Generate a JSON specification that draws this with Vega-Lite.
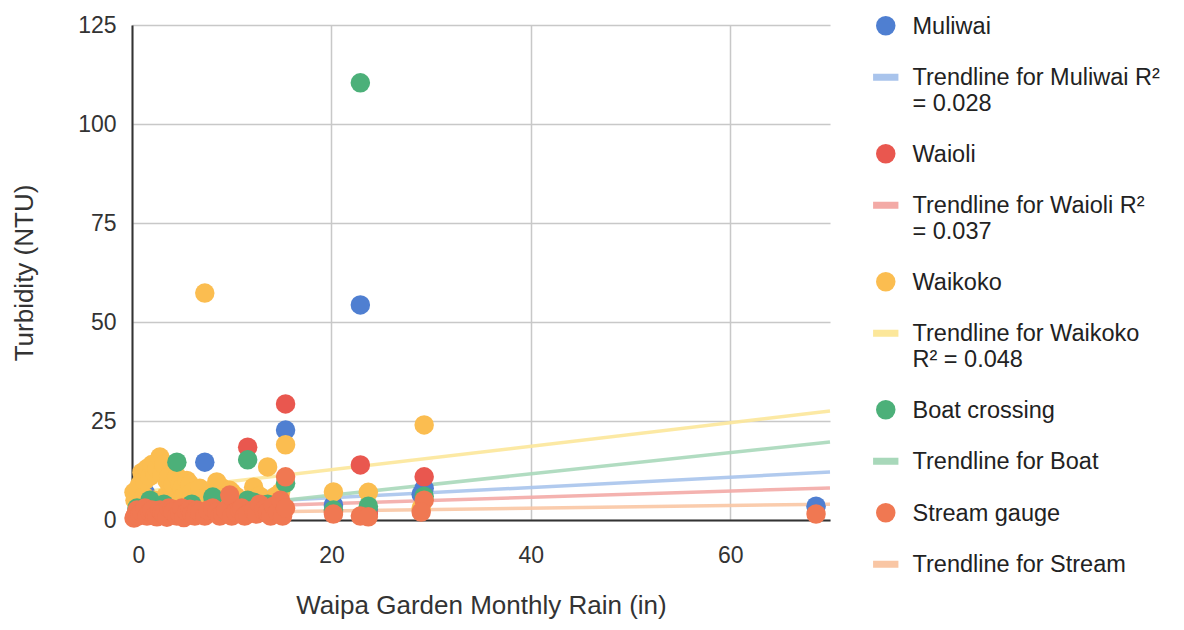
{
  "$schema": "https://vega.github.io/schema/vega-lite/v6.json",
  "width": 698,
  "height": 495,
  "autosize": {"type": "none"},
  "padding": {"left": 132, "top": 25, "right": 354, "bottom": 110},
  "background": "white",
  "config": {
    "view": {"stroke": null},
    "font": "Liberation Sans",
    "style": {"guide-label": {"dy": -11}}
  },
  "datasets": {
    "points": [
      {"series": "Muliwai", "rain": 0.5, "ntu": 2},
      {"series": "Muliwai", "rain": 1.3, "ntu": 7},
      {"series": "Muliwai", "rain": 2.3, "ntu": 3},
      {"series": "Muliwai", "rain": 3.2, "ntu": 4},
      {"series": "Muliwai", "rain": 4.1, "ntu": 3},
      {"series": "Muliwai", "rain": 5.0, "ntu": 2.5},
      {"series": "Muliwai", "rain": 6.0, "ntu": 3},
      {"series": "Muliwai", "rain": 7.3, "ntu": 14.6},
      {"series": "Muliwai", "rain": 8.1, "ntu": 3},
      {"series": "Muliwai", "rain": 9.1, "ntu": 2},
      {"series": "Muliwai", "rain": 10.4, "ntu": 3},
      {"series": "Muliwai", "rain": 11.6, "ntu": 4},
      {"series": "Muliwai", "rain": 12.2, "ntu": 6},
      {"series": "Muliwai", "rain": 13.6, "ntu": 5},
      {"series": "Muliwai", "rain": 14.9, "ntu": 4},
      {"series": "Muliwai", "rain": 15.4, "ntu": 22.7},
      {"series": "Muliwai", "rain": 20.2, "ntu": 3.8},
      {"series": "Muliwai", "rain": 22.9, "ntu": 54.3},
      {"series": "Muliwai", "rain": 23.7, "ntu": 2.5},
      {"series": "Muliwai", "rain": 29.3, "ntu": 8},
      {"series": "Muliwai", "rain": 29.0, "ntu": 6.5},
      {"series": "Muliwai", "rain": 68.6, "ntu": 3.5},
      {"series": "Waioli", "rain": 0.8, "ntu": 2},
      {"series": "Waioli", "rain": 1.8, "ntu": 3},
      {"series": "Waioli", "rain": 2.8, "ntu": 2.5},
      {"series": "Waioli", "rain": 4.1, "ntu": 12.6},
      {"series": "Waioli", "rain": 5.5, "ntu": 2},
      {"series": "Waioli", "rain": 6.5, "ntu": 3},
      {"series": "Waioli", "rain": 8.5, "ntu": 2},
      {"series": "Waioli", "rain": 9.8, "ntu": 4},
      {"series": "Waioli", "rain": 11.0, "ntu": 3},
      {"series": "Waioli", "rain": 11.6, "ntu": 18.4},
      {"series": "Waioli", "rain": 12.8, "ntu": 3},
      {"series": "Waioli", "rain": 14.2, "ntu": 2.5},
      {"series": "Waioli", "rain": 15.4, "ntu": 29.3},
      {"series": "Waioli", "rain": 20.2, "ntu": 2},
      {"series": "Waioli", "rain": 22.9, "ntu": 13.9},
      {"series": "Waioli", "rain": 23.7, "ntu": 1.5},
      {"series": "Waioli", "rain": 29.3, "ntu": 10.9},
      {"series": "Waikoko", "rain": 0.2, "ntu": 7},
      {"series": "Waikoko", "rain": 0.3, "ntu": 5},
      {"series": "Waikoko", "rain": 0.6, "ntu": 8},
      {"series": "Waikoko", "rain": 0.8, "ntu": 9},
      {"series": "Waikoko", "rain": 1.0, "ntu": 12},
      {"series": "Waikoko", "rain": 1.2, "ntu": 6},
      {"series": "Waikoko", "rain": 1.3, "ntu": 10},
      {"series": "Waikoko", "rain": 1.5, "ntu": 13},
      {"series": "Waikoko", "rain": 1.8, "ntu": 11},
      {"series": "Waikoko", "rain": 2.0, "ntu": 14},
      {"series": "Waikoko", "rain": 2.2, "ntu": 5},
      {"series": "Waikoko", "rain": 2.3, "ntu": 12},
      {"series": "Waikoko", "rain": 2.5, "ntu": 13},
      {"series": "Waikoko", "rain": 2.8, "ntu": 15.9},
      {"series": "Waikoko", "rain": 3.0, "ntu": 12},
      {"series": "Waikoko", "rain": 3.2, "ntu": 14},
      {"series": "Waikoko", "rain": 3.4, "ntu": 6},
      {"series": "Waikoko", "rain": 3.5, "ntu": 10},
      {"series": "Waikoko", "rain": 3.7, "ntu": 11},
      {"series": "Waikoko", "rain": 4.0, "ntu": 8},
      {"series": "Waikoko", "rain": 4.1, "ntu": 9},
      {"series": "Waikoko", "rain": 4.4, "ntu": 5},
      {"series": "Waikoko", "rain": 4.5, "ntu": 11},
      {"series": "Waikoko", "rain": 4.8, "ntu": 9},
      {"series": "Waikoko", "rain": 5.0, "ntu": 8},
      {"series": "Waikoko", "rain": 5.2, "ntu": 6},
      {"series": "Waikoko", "rain": 5.5, "ntu": 10},
      {"series": "Waikoko", "rain": 5.6, "ntu": 4},
      {"series": "Waikoko", "rain": 5.8, "ntu": 9},
      {"series": "Waikoko", "rain": 6.0, "ntu": 7},
      {"series": "Waikoko", "rain": 6.3, "ntu": 5},
      {"series": "Waikoko", "rain": 6.5, "ntu": 6},
      {"series": "Waikoko", "rain": 6.8, "ntu": 8},
      {"series": "Waikoko", "rain": 7.3, "ntu": 57.3},
      {"series": "Waikoko", "rain": 7.6, "ntu": 6},
      {"series": "Waikoko", "rain": 8.1, "ntu": 7},
      {"series": "Waikoko", "rain": 8.5, "ntu": 9.6},
      {"series": "Waikoko", "rain": 8.8, "ntu": 8},
      {"series": "Waikoko", "rain": 9.1, "ntu": 8},
      {"series": "Waikoko", "rain": 9.4, "ntu": 5},
      {"series": "Waikoko", "rain": 9.8, "ntu": 7.5},
      {"series": "Waikoko", "rain": 10.0, "ntu": 7},
      {"series": "Waikoko", "rain": 10.4, "ntu": 6},
      {"series": "Waikoko", "rain": 10.8, "ntu": 4},
      {"series": "Waikoko", "rain": 11.0, "ntu": 5},
      {"series": "Waikoko", "rain": 11.6, "ntu": 4},
      {"series": "Waikoko", "rain": 12.2, "ntu": 8.3},
      {"series": "Waikoko", "rain": 12.6, "ntu": 5},
      {"series": "Waikoko", "rain": 12.8, "ntu": 6},
      {"series": "Waikoko", "rain": 13.6, "ntu": 13.4},
      {"series": "Waikoko", "rain": 14.2, "ntu": 5},
      {"series": "Waikoko", "rain": 14.4, "ntu": 6},
      {"series": "Waikoko", "rain": 14.9, "ntu": 7},
      {"series": "Waikoko", "rain": 15.4, "ntu": 19},
      {"series": "Waikoko", "rain": 20.2, "ntu": 7.1},
      {"series": "Waikoko", "rain": 23.7, "ntu": 7},
      {"series": "Waikoko", "rain": 29.3, "ntu": 24},
      {"series": "Waikoko", "rain": 29.0, "ntu": 3},
      {"series": "Boat crossing", "rain": 0.5, "ntu": 3},
      {"series": "Boat crossing", "rain": 1.8, "ntu": 5},
      {"series": "Boat crossing", "rain": 3.2, "ntu": 4},
      {"series": "Boat crossing", "rain": 4.5, "ntu": 14.6},
      {"series": "Boat crossing", "rain": 6.0, "ntu": 4},
      {"series": "Boat crossing", "rain": 8.1, "ntu": 5.8},
      {"series": "Boat crossing", "rain": 9.8, "ntu": 3},
      {"series": "Boat crossing", "rain": 11.6, "ntu": 15.2},
      {"series": "Boat crossing", "rain": 11.6, "ntu": 5},
      {"series": "Boat crossing", "rain": 12.2, "ntu": 4.5},
      {"series": "Boat crossing", "rain": 13.6, "ntu": 4},
      {"series": "Boat crossing", "rain": 15.4, "ntu": 9.3},
      {"series": "Boat crossing", "rain": 20.2, "ntu": 2.5},
      {"series": "Boat crossing", "rain": 22.9, "ntu": 110.4},
      {"series": "Boat crossing", "rain": 23.7, "ntu": 3.5},
      {"series": "Boat crossing", "rain": 29.3, "ntu": 6},
      {"series": "Stream gauge", "rain": 0.2, "ntu": 0.5},
      {"series": "Stream gauge", "rain": 0.3, "ntu": 1},
      {"series": "Stream gauge", "rain": 0.5, "ntu": 2.5},
      {"series": "Stream gauge", "rain": 0.6, "ntu": 1},
      {"series": "Stream gauge", "rain": 0.8, "ntu": 1.5},
      {"series": "Stream gauge", "rain": 1.0, "ntu": 2},
      {"series": "Stream gauge", "rain": 1.3, "ntu": 3},
      {"series": "Stream gauge", "rain": 1.5, "ntu": 1},
      {"series": "Stream gauge", "rain": 1.8, "ntu": 2},
      {"series": "Stream gauge", "rain": 2.0, "ntu": 2.5},
      {"series": "Stream gauge", "rain": 2.3, "ntu": 1},
      {"series": "Stream gauge", "rain": 2.5, "ntu": 0.8},
      {"series": "Stream gauge", "rain": 2.8, "ntu": 2.5},
      {"series": "Stream gauge", "rain": 3.0, "ntu": 1.8},
      {"series": "Stream gauge", "rain": 3.2, "ntu": 1.5},
      {"series": "Stream gauge", "rain": 3.5, "ntu": 0.7},
      {"series": "Stream gauge", "rain": 3.7, "ntu": 3},
      {"series": "Stream gauge", "rain": 4.0, "ntu": 2.8},
      {"series": "Stream gauge", "rain": 4.1, "ntu": 2},
      {"series": "Stream gauge", "rain": 4.5, "ntu": 1},
      {"series": "Stream gauge", "rain": 4.8, "ntu": 1.5},
      {"series": "Stream gauge", "rain": 5.0, "ntu": 3},
      {"series": "Stream gauge", "rain": 5.2, "ntu": 0.6},
      {"series": "Stream gauge", "rain": 5.5, "ntu": 2},
      {"series": "Stream gauge", "rain": 5.8, "ntu": 2.7},
      {"series": "Stream gauge", "rain": 6.0, "ntu": 1.5},
      {"series": "Stream gauge", "rain": 6.3, "ntu": 1},
      {"series": "Stream gauge", "rain": 6.5, "ntu": 2.5},
      {"series": "Stream gauge", "rain": 6.8, "ntu": 2},
      {"series": "Stream gauge", "rain": 7.3, "ntu": 1},
      {"series": "Stream gauge", "rain": 7.6, "ntu": 2.5},
      {"series": "Stream gauge", "rain": 8.1, "ntu": 3},
      {"series": "Stream gauge", "rain": 8.5, "ntu": 2},
      {"series": "Stream gauge", "rain": 8.8, "ntu": 1},
      {"series": "Stream gauge", "rain": 9.1, "ntu": 1.5},
      {"series": "Stream gauge", "rain": 9.4, "ntu": 2.5},
      {"series": "Stream gauge", "rain": 9.8, "ntu": 6.3},
      {"series": "Stream gauge", "rain": 10.0, "ntu": 1},
      {"series": "Stream gauge", "rain": 10.4, "ntu": 2},
      {"series": "Stream gauge", "rain": 10.8, "ntu": 2.5},
      {"series": "Stream gauge", "rain": 11.0, "ntu": 3},
      {"series": "Stream gauge", "rain": 11.3, "ntu": 1},
      {"series": "Stream gauge", "rain": 11.6, "ntu": 1.5},
      {"series": "Stream gauge", "rain": 12.2, "ntu": 2.5},
      {"series": "Stream gauge", "rain": 12.5, "ntu": 1.5},
      {"series": "Stream gauge", "rain": 12.8, "ntu": 4},
      {"series": "Stream gauge", "rain": 13.2, "ntu": 2.5},
      {"series": "Stream gauge", "rain": 13.6, "ntu": 2},
      {"series": "Stream gauge", "rain": 13.9, "ntu": 1},
      {"series": "Stream gauge", "rain": 14.2, "ntu": 3.5},
      {"series": "Stream gauge", "rain": 14.6, "ntu": 2},
      {"series": "Stream gauge", "rain": 14.9, "ntu": 5},
      {"series": "Stream gauge", "rain": 15.1, "ntu": 1},
      {"series": "Stream gauge", "rain": 15.4, "ntu": 10.9},
      {"series": "Stream gauge", "rain": 15.4, "ntu": 3},
      {"series": "Stream gauge", "rain": 20.2, "ntu": 1.5},
      {"series": "Stream gauge", "rain": 22.9, "ntu": 1},
      {"series": "Stream gauge", "rain": 23.7, "ntu": 0.8},
      {"series": "Stream gauge", "rain": 29.3, "ntu": 5},
      {"series": "Stream gauge", "rain": 29.0, "ntu": 2},
      {"series": "Stream gauge", "rain": 68.6, "ntu": 1.5}
    ],
    "trends": [
      {"series": "Muliwai", "rain": 0, "ntu": 3.0},
      {"series": "Muliwai", "rain": 70, "ntu": 12.1},
      {"series": "Waioli", "rain": 0, "ntu": 2.55},
      {"series": "Waioli", "rain": 70, "ntu": 8.1},
      {"series": "Waikoko", "rain": 0, "ntu": 6.8},
      {"series": "Waikoko", "rain": 70, "ntu": 27.5},
      {"series": "Boat crossing", "rain": 0, "ntu": 0.9},
      {"series": "Boat crossing", "rain": 70, "ntu": 19.7},
      {"series": "Stream gauge", "rain": 0, "ntu": 1.6},
      {"series": "Stream gauge", "rain": 70, "ntu": 4.0}
    ]
  },
  "encoding": {
    "x": {
      "field": "rain", "type": "quantitative",
      "scale": {"domain": [0, 70], "nice": false},
      "axis": {
        "title": "Waipa Garden Monthly Rain (in)",
        "values": [0, 20, 40, 60],
        "grid": true, "gridColor": "#c8c8c8", "gridWidth": 1.5,
        "domainColor": "#333333", "domainWidth": 2,
        "ticks": false,
        "labelFontSize": 23, "labelColor": "#333333", "labelPadding": 35,
        "titleFontSize": 26, "titleFontWeight": "normal", "titleColor": "#333333", "titlePadding": 25
      }
    },
    "y": {
      "field": "ntu", "type": "quantitative",
      "scale": {"domain": [0, 125], "nice": false},
      "axis": {
        "title": "Turbidity (NTU)",
        "values": [0, 25, 50, 75, 100, 125],
        "grid": true, "gridColor": "#c8c8c8", "gridWidth": 1.5,
        "domainColor": "#333333", "domainWidth": 2,
        "ticks": false,
        "labelFontSize": 23, "labelColor": "#333333", "labelPadding": 16, "labelOffset": 11,
        "titleFontSize": 26, "titleFontWeight": "normal", "titleColor": "#333333", "titlePadding": 40
      }
    }
  },
  "layer": [
    {
      "data": {"name": "trends"},
      "mark": {"type": "line", "strokeWidth": 3.5, "opacity": 0.9},
      "encoding": {
        "detail": {"field": "series"},
        "color": {
          "field": "series", "type": "nominal",
          "scale": {
            "domain": ["Muliwai", "Waioli", "Waikoko", "Boat crossing", "Stream gauge"],
            "range": ["#a9c4ec", "#f3aaa6", "#fce79a", "#a8d8ba", "#f9c6a4"]
          },
          "legend": null
        }
      }
    },
    {
      "data": {"name": "points"},
      "mark": {"type": "point", "filled": true, "opacity": 1, "size": 380, "strokeWidth": 0},
      "encoding": {
        "color": {
          "field": "series", "type": "nominal",
          "scale": {
            "domain": ["Muliwai", "Trendline for Muliwai R²|= 0.028", "Waioli", "Trendline for Waioli R²|= 0.037", "Waikoko", "Trendline for Waikoko|R² = 0.048", "Boat crossing", "Trendline for Boat", "Stream gauge", "Trendline for Stream"],
            "range": ["#4f7fd1", "#a9c4ec", "#e9574f", "#f3aaa6", "#fbbd50", "#fce79a", "#4cb079", "#a8d8ba", "#f07852", "#f9c6a4"]
          },
          "legend": {
            "title": null,
            "orient": "none",
            "legendX": 742,
            "legendY": -11,
            "labelFont": "Liberation Sans",
            "labelFontSize": 23.5,
            "labelColor": "#222222",
            "labelLimit": 400,
            "labelOffset": 15,
            "labelLineHeight": 26,
            "labelBaseline": "top",
            "labelExpr": "split(datum.label, '|')",
            "symbolSize": 380,
            "rowPadding": 26.5,
            "symbolStrokeWidth": 0
          }
        },
        "shape": {
          "field": "series", "type": "nominal",
          "scale": {
            "domain": ["Muliwai", "Trendline for Muliwai R²|= 0.028", "Waioli", "Trendline for Waioli R²|= 0.037", "Waikoko", "Trendline for Waikoko|R² = 0.048", "Boat crossing", "Trendline for Boat", "Stream gauge", "Trendline for Stream"],
            "range": ["circle", "M-1.3,-0.36H1.3V0.36H-1.3Z", "circle", "M-1.3,-0.36H1.3V0.36H-1.3Z", "circle", "M-1.3,-0.36H1.3V0.36H-1.3Z", "circle", "M-1.3,-0.36H1.3V0.36H-1.3Z", "circle", "M-1.3,-0.36H1.3V0.36H-1.3Z"]
          },
          "legend": {
            "title": null,
            "orient": "none",
            "legendX": 742,
            "legendY": -11,
            "labelFont": "Liberation Sans",
            "labelFontSize": 23.5,
            "labelColor": "#222222",
            "labelLimit": 400,
            "labelOffset": 15,
            "labelLineHeight": 26,
            "labelBaseline": "top",
            "labelExpr": "split(datum.label, '|')",
            "symbolSize": 380,
            "rowPadding": 26.5,
            "symbolStrokeWidth": 0
          }
        }
      }
    }
  ],
  "resolve": {
    "scale": {"color": "independent", "shape": "independent"},
    "legend": {"color": "independent", "shape": "independent"}
  }
}
